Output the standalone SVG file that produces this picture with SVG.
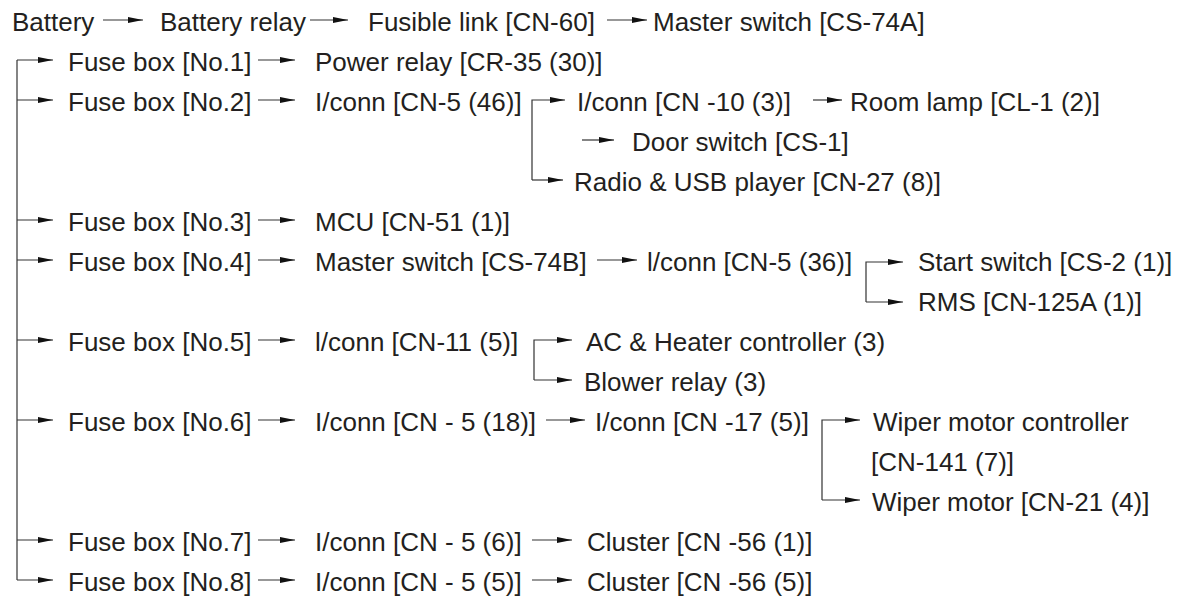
<svg xmlns="http://www.w3.org/2000/svg" width="1184" height="598" viewBox="0 0 1184 598">
<style>
text{font-family:"Liberation Sans",Arial,Helvetica,sans-serif;font-size:26px;fill:#231f20}
.c{fill:none;stroke:#333;stroke-width:1.2}
.a{fill:none;stroke:#333;stroke-width:1.2;marker-end:url(#ah)}
</style>
<defs>
<marker id="ah" markerUnits="userSpaceOnUse" markerWidth="15" markerHeight="7" viewBox="0 0 15 7" refX="15" refY="3.5" orient="auto">
<path d="M0,0.6 L15,3.5 L0,6.4 Z" fill="#111"/>
</marker>
</defs>
<rect width="1184" height="598" fill="#fff"/>
<g id="connectors">
<line class="a" x1="103" y1="20" x2="143" y2="20"/>
<line class="a" x1="310" y1="20" x2="348" y2="20"/>
<line class="a" x1="607" y1="20" x2="647" y2="20"/>
<path class="c" d="M17,60 V580"/>
<line class="a" x1="17" y1="60" x2="53" y2="60"/>
<line class="a" x1="17" y1="100" x2="53" y2="100"/>
<line class="a" x1="17" y1="220" x2="53" y2="220"/>
<line class="a" x1="17" y1="260" x2="53" y2="260"/>
<line class="a" x1="17" y1="340" x2="53" y2="340"/>
<line class="a" x1="17" y1="420" x2="53" y2="420"/>
<line class="a" x1="17" y1="540" x2="53" y2="540"/>
<line class="a" x1="17" y1="580" x2="53" y2="580"/>
<line class="a" x1="258" y1="60" x2="295" y2="60"/>
<line class="a" x1="258" y1="100" x2="295" y2="100"/>
<line class="a" x1="258" y1="220" x2="295" y2="220"/>
<line class="a" x1="258" y1="260" x2="295" y2="260"/>
<line class="a" x1="258" y1="340" x2="295" y2="340"/>
<line class="a" x1="258" y1="420" x2="295" y2="420"/>
<line class="a" x1="258" y1="540" x2="295" y2="540"/>
<line class="a" x1="258" y1="580" x2="295" y2="580"/>
<path class="a" d="M532,180 V100 H565"/>
<line class="a" x1="532" y1="180" x2="563" y2="180"/>
<line class="a" x1="813" y1="100" x2="842" y2="100"/>
<line class="a" x1="582" y1="140" x2="614" y2="140"/>
<line class="a" x1="597" y1="260" x2="637" y2="260"/>
<path class="a" d="M866,302 V262 H903"/>
<line class="a" x1="866" y1="302" x2="903" y2="302"/>
<path class="a" d="M534,380 V340 H572"/>
<line class="a" x1="534" y1="380" x2="572" y2="380"/>
<line class="a" x1="546" y1="420" x2="585" y2="420"/>
<path class="a" d="M822,500 V420 H860"/>
<line class="a" x1="822" y1="500" x2="860" y2="500"/>
<line class="a" x1="532" y1="540" x2="572" y2="540"/>
<line class="a" x1="532" y1="580" x2="572" y2="580"/>
</g>
<g id="n-battery"><text x="12" y="31">Battery</text></g>
<g id="n-battery-relay"><text x="160" y="31">Battery relay</text></g>
<g id="n-fusible-link"><text x="368" y="31">Fusible link [CN-60]</text></g>
<g id="n-master-a"><text x="653" y="31">Master switch [CS-74A]</text></g>
<g id="n-fuse1"><text x="68" y="71">Fuse box [No.1]</text></g>
<g id="n-power-relay"><text x="315" y="71">Power relay [CR-35 (30)]</text></g>
<g id="n-fuse2"><text x="68" y="111">Fuse box [No.2]</text></g>
<g id="n-iconn46"><text x="315" y="111">I/conn [CN-5 (46)]</text></g>
<g id="n-iconn10"><text x="577" y="111">I/conn [CN -10 (3)]</text></g>
<g id="n-room-lamp"><text x="850" y="111">Room lamp [CL-1 (2)]</text></g>
<g id="n-door"><text x="632" y="151">Door switch [CS-1]</text></g>
<g id="n-radio"><text x="574" y="191">Radio &amp; USB player [CN-27 (8)]</text></g>
<g id="n-fuse3"><text x="68" y="231">Fuse box [No.3]</text></g>
<g id="n-mcu"><text x="315" y="231">MCU [CN-51 (1)]</text></g>
<g id="n-fuse4"><text x="68" y="271">Fuse box [No.4]</text></g>
<g id="n-master-b"><text x="315" y="271">Master switch [CS-74B]</text></g>
<g id="n-iconn36"><text x="647" y="271">l/conn [CN-5 (36)]</text></g>
<g id="n-start"><text x="918" y="271">Start switch [CS-2 (1)]</text></g>
<g id="n-rms"><text x="918" y="311">RMS [CN-125A (1)]</text></g>
<g id="n-fuse5"><text x="68" y="351">Fuse box [No.5]</text></g>
<g id="n-iconn11"><text x="315" y="351">l/conn [CN-11 (5)]</text></g>
<g id="n-ac"><text x="586" y="351">AC &amp; Heater controller (3)</text></g>
<g id="n-blower"><text x="584" y="391">Blower relay (3)</text></g>
<g id="n-fuse6"><text x="68" y="431">Fuse box [No.6]</text></g>
<g id="n-iconn18"><text x="315" y="431">I/conn [CN - 5 (18)]</text></g>
<g id="n-iconn17"><text x="595" y="431">I/conn [CN -17 (5)]</text></g>
<g id="n-wiper-ctrl"><text x="873" y="431">Wiper motor controller</text><text x="871" y="471">[CN-141 (7)]</text></g>
<g id="n-wiper-motor"><text x="872" y="511">Wiper motor [CN-21 (4)]</text></g>
<g id="n-fuse7"><text x="68" y="551">Fuse box [No.7]</text></g>
<g id="n-iconn6"><text x="315" y="551">I/conn [CN - 5 (6)]</text></g>
<g id="n-cluster1"><text x="587" y="551">Cluster [CN -56 (1)]</text></g>
<g id="n-fuse8"><text x="68" y="591">Fuse box [No.8]</text></g>
<g id="n-iconn5"><text x="315" y="591">I/conn [CN - 5 (5)]</text></g>
<g id="n-cluster5"><text x="587" y="591">Cluster [CN -56 (5)]</text></g>
</svg>
